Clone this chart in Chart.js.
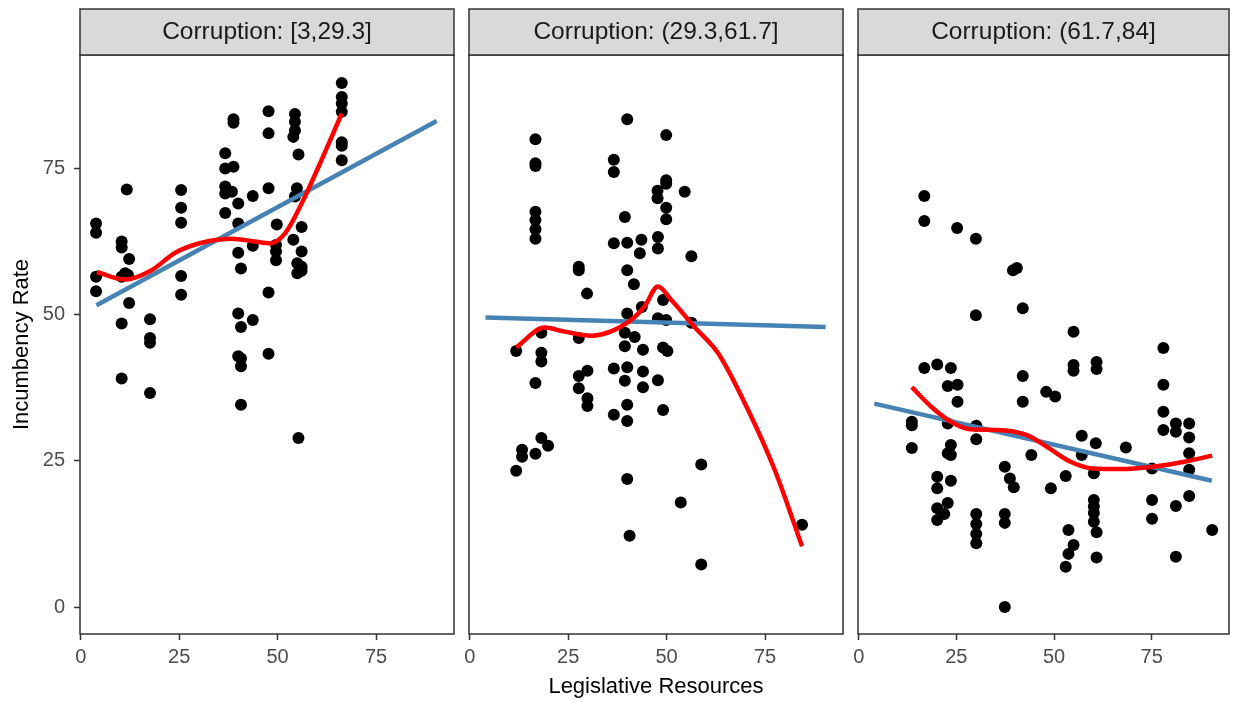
<!DOCTYPE html>
<html>
<head>
<meta charset="utf-8">
<script src="https://cdn.jsdelivr.net/npm/chart.js@4.4.1/dist/chart.umd.min.js"></script>
<style>
html,body{margin:0;padding:0;background:#ffffff;}
body{width:1235px;height:702px;position:relative;overflow:hidden;}
canvas{position:absolute;top:0;}
</style>
</head>
<body>
<canvas id="c1" width="464" height="702" style="left:0px"></canvas>
<canvas id="c2" width="394" height="702" style="left:459px"></canvas>
<canvas id="c3" width="387" height="702" style="left:848px"></canvas>
<script>
// ---------- data ----------
const panelLabels = ["Corruption: [3,29.3]", "Corruption: (29.3,61.7]", "Corruption: (61.7,84]"];
const xTickValues = [0, 25, 50, 75];
const yTickValues = [0, 25, 50, 75];
const xTitle = "Legislative Resources";
const yTitle = "Incumbency Rate";

// Panel 1 points
const p1X = [66.3,66.3,66.3,66.3,66.3,66.3,66.3,47.7,47.7,38.8,38.8,54.4,54.4,54.4,54.0,55.3,36.7,36.7,38.8,11.7,
  25.5,25.5,25.5,36.7,36.7,38.4,40.0,36.7,43.7,47.7,54.9,54.4,3.9,3.9,10.4,10.4,12.3,3.9,3.9,11.3,
  10.4,12.0,25.5,25.5,40.0,49.8,56.1,54.0,49.6,49.6,49.6,43.7,40.0,40.7,56.1,55.0,56.1,55.0,56.1,47.7,
  12.3,10.4,17.6,17.6,17.6,40.0,43.7,40.7,40.0,40.7,40.7,47.7,10.4,17.6,40.7,55.3];
const p1Y = [89.6,87.2,86.1,84.7,79.5,78.9,76.4,84.8,81.0,83.4,82.8,84.3,83.0,81.5,80.4,77.4,77.6,75.0,75.3,71.4,
  71.3,68.3,65.7,71.9,70.7,71.0,69.0,67.4,70.3,71.6,71.6,70.2,65.6,64.0,62.5,61.5,59.5,56.5,54.0,57.1,
  56.5,56.8,56.6,53.4,65.6,65.4,65.0,62.8,61.9,60.8,59.3,61.8,60.6,57.9,60.8,58.8,58.2,57.1,57.5,53.8,
  52.0,48.5,49.2,46.0,45.2,50.2,49.1,47.9,42.9,42.5,41.2,43.3,39.1,36.6,34.6,28.9];

// Panel 2 points
const p2X = [40.0,49.9,16.7,16.7,16.7,36.6,36.6,49.9,49.9,47.7,47.7,54.6,49.9,49.9,16.7,16.7,16.7,16.7,39.4,36.6,
  40.0,43.6,43.2,47.8,47.8,56.3,27.7,27.7,40.0,41.7,29.8,49.1,43.7,40.0,47.8,49.9,56.3,18.2,27.7,39.4,
  41.9,39.4,44.0,49.1,50.2,11.8,18.2,18.2,36.6,40.0,44.0,44.0,29.9,27.7,27.7,39.4,47.8,16.7,29.9,29.9,
  40.0,36.6,40.0,49.1,18.2,19.9,16.7,13.3,13.3,11.8,58.8,40.0,53.6,84.4,40.6,58.8];
const p2Y = [83.4,80.7,80.0,75.9,75.4,76.5,74.4,73.0,72.4,71.2,69.9,71.0,68.3,66.3,67.6,66.2,64.6,63.0,66.7,62.2,
  62.3,62.8,60.5,63.3,61.3,60.0,58.2,57.6,57.6,55.2,53.6,52.5,51.3,50.2,49.4,49.1,48.6,46.9,46.0,46.9,
  46.2,44.6,44.0,44.4,43.8,43.8,43.5,42.0,40.8,41.0,40.3,37.6,40.4,39.5,37.4,38.7,38.8,38.3,35.7,34.4,
  34.6,32.9,31.8,33.7,28.9,27.6,26.2,26.9,25.7,23.3,24.4,21.9,17.9,14.1,12.2,7.3];

// Panel 3 points
const p3X = [16.8,16.8,25.2,30.0,39.5,40.5,30.0,42.0,55.0,78.0,16.8,20.1,23.6,55.0,55.0,60.9,60.9,42.0,78.0,22.8,
  25.3,48.0,25.3,42.0,50.3,78.0,78.0,81.2,81.2,84.6,84.6,84.6,84.6,84.6,13.6,13.6,13.6,22.8,30.1,30.1,
  23.6,22.8,23.6,44.2,57.1,57.1,60.7,68.4,75.1,60.2,37.4,38.7,39.7,53.0,49.2,20.1,20.1,23.6,22.8,20.1,
  21.9,20.1,30.1,30.1,30.1,30.1,37.4,37.4,60.2,60.2,60.2,60.2,60.9,60.9,75.1,75.1,81.2,90.5,81.2,53.7,
  55.0,53.7,53.0,37.4];
const p3Y = [70.3,66.0,64.8,63.0,57.6,58.0,49.9,51.1,47.1,44.3,40.9,41.5,40.9,41.4,40.4,41.9,40.7,39.5,38.0,37.8,
  38.0,36.8,35.1,35.1,36.0,33.4,30.3,31.4,30.0,31.4,29.0,26.3,23.5,19.0,31.7,31.1,27.2,31.4,31.0,28.7,
  27.7,26.3,26.0,26.0,29.3,26.0,28.0,27.3,23.7,22.9,24.0,22.0,20.5,22.4,20.3,22.3,20.3,21.6,17.8,16.9,
  15.9,14.9,15.9,14.2,12.5,10.9,15.9,14.4,18.3,17.2,16.1,14.6,12.8,8.5,18.3,15.1,17.3,13.2,8.6,13.2,
  10.6,9.1,6.9,0.0];

// Linear fits (endpoints)
const lm1X = [4.0, 90.4], lm1Y = [51.6, 83.1];
const lm2X = [4.0, 90.4], lm2Y = [49.5, 47.9];
const lm3X = [4.0, 90.4], lm3Y = [34.8, 21.6];

// Loess smooths
const lo1X = [4.1, 11.3, 18.0, 24.0, 30.7, 38.4, 44.3, 48.1, 51.9, 56.1, 60.4, 66.3];
const lo1Y = [57.3, 56.0, 57.6, 60.6, 62.3, 63.0, 62.5, 62.2, 63.9, 69.0, 75.3, 84.4];
const lo2X = [11.8, 19.0, 24.1, 30.9, 36.8, 41.9, 44.4, 47.8, 51.2, 57.1, 63.1, 70.7, 77.5, 84.4];
const lo2Y = [44.4, 47.8, 47.1, 46.4, 47.4, 49.6, 51.4, 54.8, 52.5, 47.9, 43.4, 33.7, 23.4, 10.4];
const lo3X = [13.6, 18.5, 23.6, 28.7, 35.5, 43.1, 48.2, 54.1, 60.0, 66.8, 75.3, 83.7, 90.5];
const lo3Y = [37.6, 34.3, 31.7, 30.4, 30.3, 29.4, 27.4, 24.9, 23.7, 23.6, 24.0, 24.9, 25.9];

// ---------- rendering ----------
const FONT = "'Liberation Sans', Arial, Helvetica, sans-serif";
Chart.defaults.font.family = FONT;

function pts(xs, ys) { return xs.map((x, i) => ({x: x, y: ys[i]})); }

const stripPlugin = {
  id: 'strip',
  afterDraw(chart, args, opts) {
    const ctx = chart.ctx, a = chart.chartArea;
    ctx.save();
    ctx.strokeStyle = '#333333';
    ctx.lineWidth = 1.5;
    ctx.strokeRect(a.left, a.top, a.right - a.left, a.bottom - a.top);
    ctx.fillStyle = '#D9D9D9';
    ctx.fillRect(a.left, 9, a.right - a.left, a.top - 9);
    ctx.strokeRect(a.left, 9, a.right - a.left, a.top - 9);
    ctx.fillStyle = '#1A1A1A';
    ctx.font = "24.5px " + FONT;
    ctx.textAlign = 'center';
    ctx.textBaseline = 'middle';
    ctx.fillText(opts.text, (a.left + a.right) / 2, 32.5);
    ctx.restore();
  }
};

function makePanel(id, idx, px, py, lx, ly, ox, oy, opt) {
  const tickSet = (vals) => function(scale) { scale.ticks = vals.map(v => ({value: v})); };
  new Chart(document.getElementById(id), {
    type: 'scatter',
    data: {
      datasets: [
        {type: 'line', data: pts(ox, oy), borderColor: '#FF0000', borderWidth: 4.5, pointRadius: 0,
         showLine: true, fill: false, cubicInterpolationMode: 'monotone', order: 0},
        {type: 'line', data: pts(lx, ly), borderColor: '#4682B4', borderWidth: 4.5, pointRadius: 0,
         showLine: true, fill: false, tension: 0, order: 1},
        {type: 'scatter', data: pts(px, py), backgroundColor: '#000000', borderWidth: 0, pointRadius: 6,
         order: 2}
      ]
    },
    options: {
      responsive: false,
      animation: false,
      events: [],
      layout: {padding: {top: 55, bottom: 0, left: opt.padL, right: opt.padR}},
      plugins: {legend: {display: false}, tooltip: {enabled: false}, strip: {text: panelLabels[idx]}},
      scales: {
        x: {
          type: 'linear', min: -0.18, max: 94.8,
          afterBuildTicks: tickSet(xTickValues),
          afterFit: function(s) { s.height = 68; },
          grid: {display: true, drawOnChartArea: false, drawTicks: true, tickLength: 6, tickColor: '#333333', tickWidth: 1.5},
          border: {display: false},
          ticks: {color: '#4D4D4D', font: {size: 20}, padding: 5, maxRotation: 0, autoSkip: false},
          title: {display: opt.xTitle, text: xTitle, color: '#000000', font: {size: 22}, padding: {top: 0, bottom: 2}}
        },
        y: {
          type: 'linear', min: -4.6, max: 94.4,
          display: opt.yAxis,
          afterBuildTicks: tickSet(yTickValues),
          afterFit: function(s) { s.width = opt.yAxis ? 80 : 0; },
          grid: {display: true, drawOnChartArea: false, drawTicks: true, tickLength: 6, tickColor: '#333333', tickWidth: 1.5},
          border: {display: false},
          ticks: {color: '#4D4D4D', font: {size: 20}, padding: 9, autoSkip: false},
          title: {display: opt.yAxis, text: yTitle, color: '#000000', font: {size: 22}, padding: {top: 8.5, bottom: 0}}
        }
      }
    },
    plugins: [stripPlugin]
  });
}

makePanel('c1', 0, p1X, p1Y, lm1X, lm1Y, lo1X, lo1Y, {padL: 0, padR: 10, yAxis: true, xTitle: false});
makePanel('c2', 1, p2X, p2Y, lm2X, lm2Y, lo2X, lo2Y, {padL: 10, padR: 10, yAxis: false, xTitle: true});
makePanel('c3', 2, p3X, p3Y, lm3X, lm3Y, lo3X, lo3Y, {padL: 10, padR: 3, yAxis: false, xTitle: false});
</script>
</body>
</html>
